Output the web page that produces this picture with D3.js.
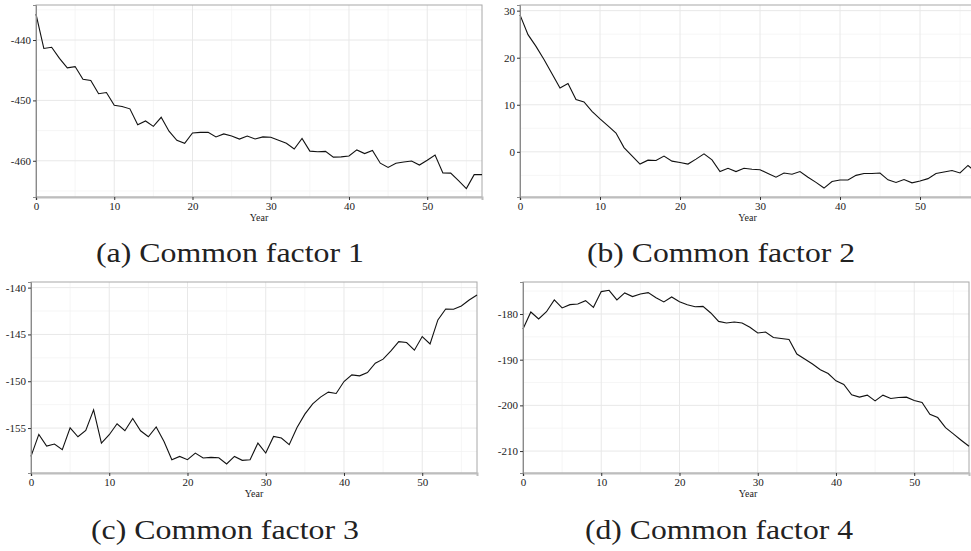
<!DOCTYPE html>
<html>
<head>
<meta charset="utf-8">
<script src="https://cdn.jsdelivr.net/npm/d3@7"></script>
<style>
  body { margin: 0; background: #fff; }
  text { font-family: "Liberation Serif", "DejaVu Serif", serif; fill: #222; }
</style>
</head>
<body>
<div id="chart"></div>
<script>
"use strict"

// years 0..57
const years = d3.range(0, 58)

const factor1 = [-435.7, -441.4, -441.2, -443.05, -444.6, -444.4, -446.5, -446.7, -448.9, -448.7,
  -450.8, -451.0, -451.4, -454.05, -453.4, -454.3, -452.8, -455.1, -456.6, -457.1,
  -455.4, -455.3, -455.3, -456.05, -455.55, -455.9, -456.4, -455.9, -456.4, -456.05,
  -456.1, -456.6, -457.1, -458.05, -456.3, -458.4, -458.5, -458.45, -459.4, -459.35,
  -459.2, -458.2, -458.8, -458.3, -460.4, -461.1, -460.4, -460.2, -460.05, -460.7,
  -459.9, -459.05, -462.0, -462.05, -463.3, -464.6, -462.3, -462.3]

const factor2 = [29.1, 24.9, 22.4, 19.6, 16.6, 13.55, 14.5, 11.1, 10.6, 8.6,
  7.0, 5.5, 4.0, 0.9, -0.85, -2.6, -1.77, -1.84, -0.9, -1.98,
  -2.27, -2.6, -1.55, -0.43, -1.7, -4.2, -3.5, -4.2, -3.5, -3.7,
  -3.8, -4.6, -5.4, -4.5, -4.75, -4.2, -5.4, -6.5, -7.7, -6.3,
  -6.0, -6.0, -5.0, -4.6, -4.6, -4.5, -5.96, -6.5, -5.9, -6.6,
  -6.2, -5.7, -4.6, -4.3, -3.97, -4.5, -2.9, -4.3]

const factor3 = [-158.03, -155.68, -156.92, -156.71, -157.31, -154.97, -155.93, -155.25, -153.05, -156.6,
  -155.71, -154.54, -155.29, -153.98, -155.29, -155.93, -154.89, -156.43, -158.38, -158.03,
  -158.38, -157.67, -158.2, -158.13, -158.17, -158.84, -158.03, -158.45, -158.38, -156.6,
  -157.67, -155.89, -156.07, -156.78, -154.94, -153.51, -152.41, -151.7, -151.16, -151.31,
  -150.03, -149.32, -149.42, -149.07, -148.07, -147.64, -146.76, -145.77, -145.87, -146.68,
  -145.23, -146.01, -143.45, -142.28, -142.31, -141.96, -141.32, -140.79]

const factor4 = [-183.3, -179.56, -181.1, -179.5, -176.93, -178.68, -177.96, -177.81, -177.08, -178.55,
  -175.1, -174.82, -176.93, -175.39, -176.2, -175.61, -175.33, -176.43, -177.37, -176.27,
  -177.3, -177.96, -178.4, -178.33, -179.78, -181.62, -181.97, -181.75, -181.97, -182.9,
  -184.17, -183.95, -185.13, -185.35, -185.57, -188.77, -189.87, -190.96, -192.2, -193.02,
  -194.63, -195.43, -197.7, -198.2, -197.76, -199.01, -197.76, -198.5, -198.28, -198.2,
  -198.94, -199.38, -201.93, -202.67, -204.87, -206.25, -207.63, -208.95]

const xTicks = [0, 10, 20, 30, 40, 50]
const captions = ["(a) Common factor 1", "(b) Common factor 2", "(c) Common factor 3", "(d) Common factor 4"]
const yTicks1 = [-460, -450, -440]
const yTicks2 = [0, 10, 20, 30]
const yTicks3 = [-155, -150, -145, -140]
const yTicks4 = [-210, -200, -190, -180]

const width = 971, height = 551

const svg = d3.select("#chart").append("svg")
  .attr("width", width)
  .attr("height", height)

// panel boxes + caption placement
const panels = [
  {values: factor1, ticks: yTicks1, yDom: [-466, -434.2], x0: 36, x1: 482, y0: 5, y1: 197, cap: 230, capY: 262},
  {values: factor2, ticks: yTicks2, yDom: [-9.6, 31.2], x0: 520, x1: 976, y0: 5, y1: 197, cap: 721, capY: 262},
  {values: factor3, ticks: yTicks3, yDom: [-159.8, -139.4], x0: 31, x1: 477, y0: 282, y1: 473, cap: 225, capY: 539},
  {values: factor4, ticks: yTicks4, yDom: [-214.8, -173], x0: 523, x1: 969, y0: 282, y1: 473, cap: 719, capY: 539}
]

panels.forEach(function(p, i) {
  const x = d3.scaleLinear().domain([0, 57]).range([p.x0, p.x1])
  const y = d3.scaleLinear().domain(p.yDom).range([p.y1, p.y0])
  const step = p.ticks[1] - p.ticks[0]
  const g = svg.append("g")

  // minor grid
  const xMinor = xTicks.map(function(d) { return d + 5 })
  const yMinor = p.ticks.map(function(d) { return d - step / 2 }).concat([p.ticks[p.ticks.length - 1] + step / 2])
    .filter(function(d) { return d > p.yDom[0] && d < p.yDom[1] })
  g.selectAll(".xminor").data(xMinor.filter(function(d) { return d < 57 })).enter().append("line")
    .attr("x1", function(d) { return x(d) }).attr("x2", function(d) { return x(d) })
    .attr("y1", p.y0).attr("y2", p.y1)
    .style("stroke", "#f4f4f4").style("stroke-width", 0.8)
  g.selectAll(".yminor").data(yMinor).enter().append("line")
    .attr("x1", p.x0).attr("x2", p.x1)
    .attr("y1", function(d) { return y(d) }).attr("y2", function(d) { return y(d) })
    .style("stroke", "#f4f4f4").style("stroke-width", 0.8)

  // major grid
  g.selectAll(".xmajor").data(xTicks).enter().append("line")
    .attr("x1", function(d) { return x(d) }).attr("x2", function(d) { return x(d) })
    .attr("y1", p.y0).attr("y2", p.y1)
    .style("stroke", "#e8e8e8").style("stroke-width", 1)
  g.selectAll(".ymajor").data(p.ticks).enter().append("line")
    .attr("x1", p.x0).attr("x2", p.x1)
    .attr("y1", function(d) { return y(d) }).attr("y2", function(d) { return y(d) })
    .style("stroke", "#e8e8e8").style("stroke-width", 1)

  // border
  g.append("rect")
    .attr("x", p.x0).attr("y", p.y0)
    .attr("width", p.x1 - p.x0).attr("height", p.y1 - p.y0)
    .style("fill", "none").style("stroke", "#a8a8a8").style("stroke-width", 1)

  // the series
  const line = d3.line()
    .x(function(d, j) { return x(years[j]) })
    .y(function(d) { return y(d) })
  g.append("path")
    .datum(p.values)
    .attr("d", line)
    .style("fill", "none")
    .style("stroke", "#111")
    .style("stroke-width", 1.1)

  // axes
  const xa = g.append("g")
    .attr("transform", "translate(0," + p.y1 + ")")
    .call(d3.axisBottom(x).tickValues(xTicks).tickSize(3).tickPadding(2).tickFormat(d3.format("d")))
  xa.select(".domain").style("stroke", "#bdbdbd").style("stroke-width", 2)
  xa.selectAll(".tick line").style("stroke", "#333")
  xa.selectAll(".tick text").style("font-size", "11px").style("font-family", "Liberation Serif").style("fill", "#222")

  const ya = g.append("g")
    .attr("transform", "translate(" + p.x0 + ",0)")
    .call(d3.axisLeft(y).tickValues(p.ticks).tickSize(3).tickPadding(2).tickFormat(function(d) { return String(d) }))
  ya.select(".domain").style("stroke", "#8a8a8a").style("stroke-width", 1)
  ya.selectAll(".tick line").style("stroke", "#333")
  ya.selectAll(".tick text").style("font-size", "11px").style("font-family", "Liberation Serif").style("fill", "#222")

  g.append("text")
    .attr("x", (p.x0 + Math.min(p.x1, 971)) / 2 + (i % 2 ? 2 : 0))
    .attr("y", p.y1 + 24)
    .attr("text-anchor", "middle")
    .style("font-size", "10px")
    .text("Year")

  svg.append("text")
    .attr("x", p.cap)
    .attr("y", p.capY)
    .attr("text-anchor", "middle")
    .attr("textLength", 268)
    .attr("lengthAdjust", "spacingAndGlyphs")
    .style("font-size", "28px")
    .text(captions[i])
})
</script>
</body>
</html>
